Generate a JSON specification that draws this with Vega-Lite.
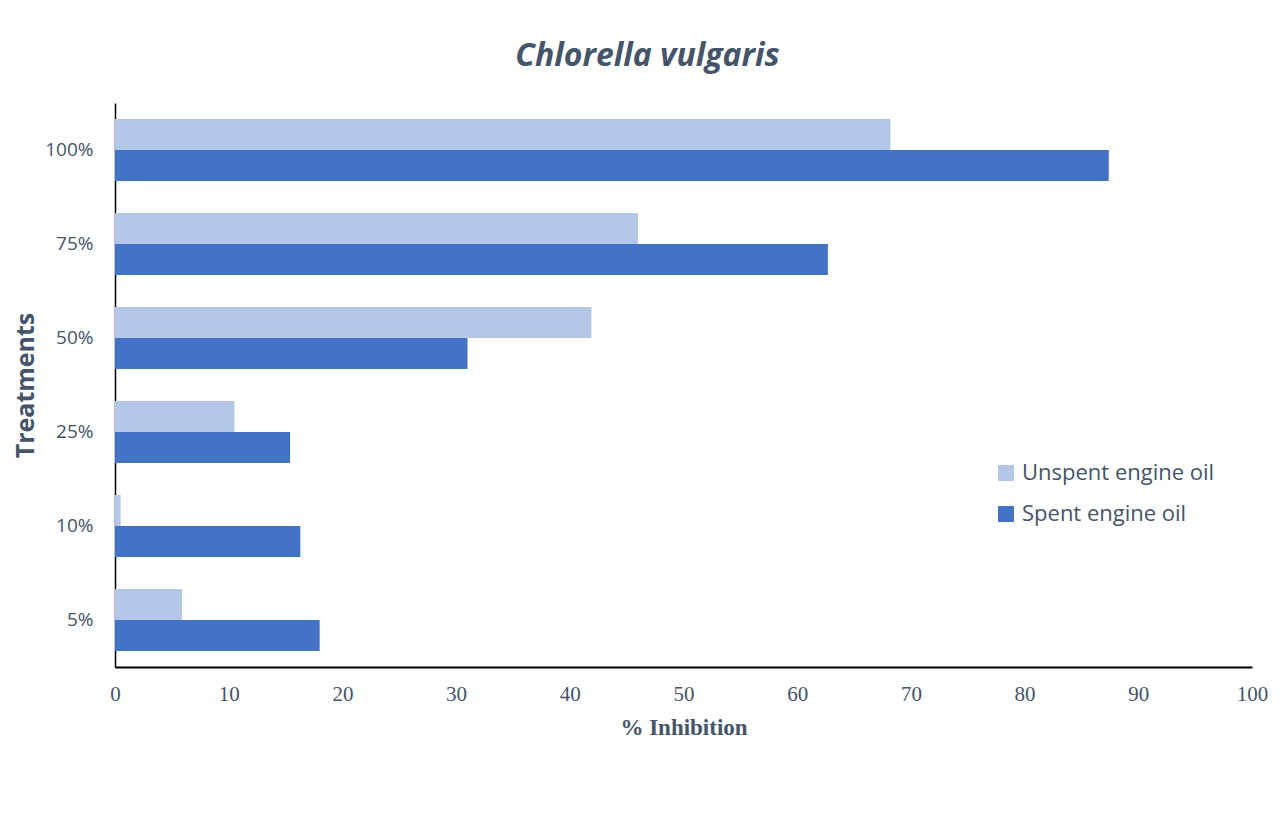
{
  "$schema": "https://vega.github.io/schema/vega-lite/v6.json",
  "width": 1137,
  "height": 564,
  "autosize": {"type": "none"},
  "padding": {"left": 115, "top": 103, "right": 34, "bottom": 68},
  "background": "white",
  "title": {
    "text": "Chlorella vulgaris",
    "font": "Open Sans",
    "fontSize": 32,
    "fontStyle": "italic",
    "fontWeight": "bold",
    "color": "#44546A",
    "anchor": "middle",
    "dx": -36,
    "offset": 30
  },
  "data": {
    "values": [
      {"treatment": "100%", "oil": "Unspent engine oil", "inhibition": 68.2},
      {"treatment": "100%", "oil": "Spent engine oil", "inhibition": 87.4},
      {"treatment": "75%", "oil": "Unspent engine oil", "inhibition": 46.0},
      {"treatment": "75%", "oil": "Spent engine oil", "inhibition": 62.7},
      {"treatment": "50%", "oil": "Unspent engine oil", "inhibition": 41.9},
      {"treatment": "50%", "oil": "Spent engine oil", "inhibition": 31.0},
      {"treatment": "25%", "oil": "Unspent engine oil", "inhibition": 10.5},
      {"treatment": "25%", "oil": "Spent engine oil", "inhibition": 15.4},
      {"treatment": "10%", "oil": "Unspent engine oil", "inhibition": 0.5},
      {"treatment": "10%", "oil": "Spent engine oil", "inhibition": 16.3},
      {"treatment": "5%", "oil": "Unspent engine oil", "inhibition": 5.9},
      {"treatment": "5%", "oil": "Spent engine oil", "inhibition": 18.0}
    ]
  },
  "mark": {"type": "bar", "stroke": null},
  "encoding": {
    "y": {
      "field": "treatment",
      "type": "nominal",
      "sort": ["100%", "75%", "50%", "25%", "10%", "5%"],
      "scale": {"paddingInner": 0.34, "paddingOuter": 0.17},
      "axis": {
        "title": "Treatments",
        "titleFont": "Open Sans",
        "titleFontSize": 25,
        "titleFontWeight": "bold",
        "titleColor": "#44546A",
        "titlePadding": 6,
        "labelFont": "Open Sans",
        "labelFontSize": 19,
        "labelColor": "#44546A",
        "labelPadding": 22,
        "ticks": false,
        "domainColor": "black",
        "domainWidth": 1.5,
        "grid": false
      }
    },
    "yOffset": {
      "field": "oil",
      "type": "nominal",
      "sort": ["Unspent engine oil", "Spent engine oil"]
    },
    "x": {
      "field": "inhibition",
      "type": "quantitative",
      "scale": {"domain": [0, 100], "nice": false},
      "axis": {
        "title": "% Inhibition",
        "titleFont": "Liberation Serif",
        "titleFontSize": 23,
        "titleFontWeight": "bold",
        "titleColor": "#44546A",
        "titlePadding": 12,
        "labelFont": "Liberation Serif",
        "labelFontSize": 21,
        "labelColor": "#44546A",
        "labelPadding": 16,
        "labelFlush": false,
        "values": [0, 10, 20, 30, 40, 50, 60, 70, 80, 90, 100],
        "ticks": false,
        "domainColor": "black",
        "domainWidth": 2,
        "grid": false
      }
    },
    "color": {
      "field": "oil",
      "type": "nominal",
      "sort": ["Unspent engine oil", "Spent engine oil"],
      "scale": {
        "domain": ["Unspent engine oil", "Spent engine oil"],
        "range": ["#B4C7E7", "#4472C4"]
      },
      "legend": {
        "title": null,
        "orient": "none",
        "legendX": 880,
        "legendY": 359,
        "symbolType": "square",
        "symbolSize": 256,
        "symbolStrokeWidth": 0,
        "labelFont": "Open Sans",
        "labelFontSize": 22,
        "labelLimit": 0,
        "labelColor": "#44546A",
        "labelOffset": 5,
        "rowPadding": 19
      }
    }
  },
  "config": {
    "view": {"stroke": null}
  }
}
